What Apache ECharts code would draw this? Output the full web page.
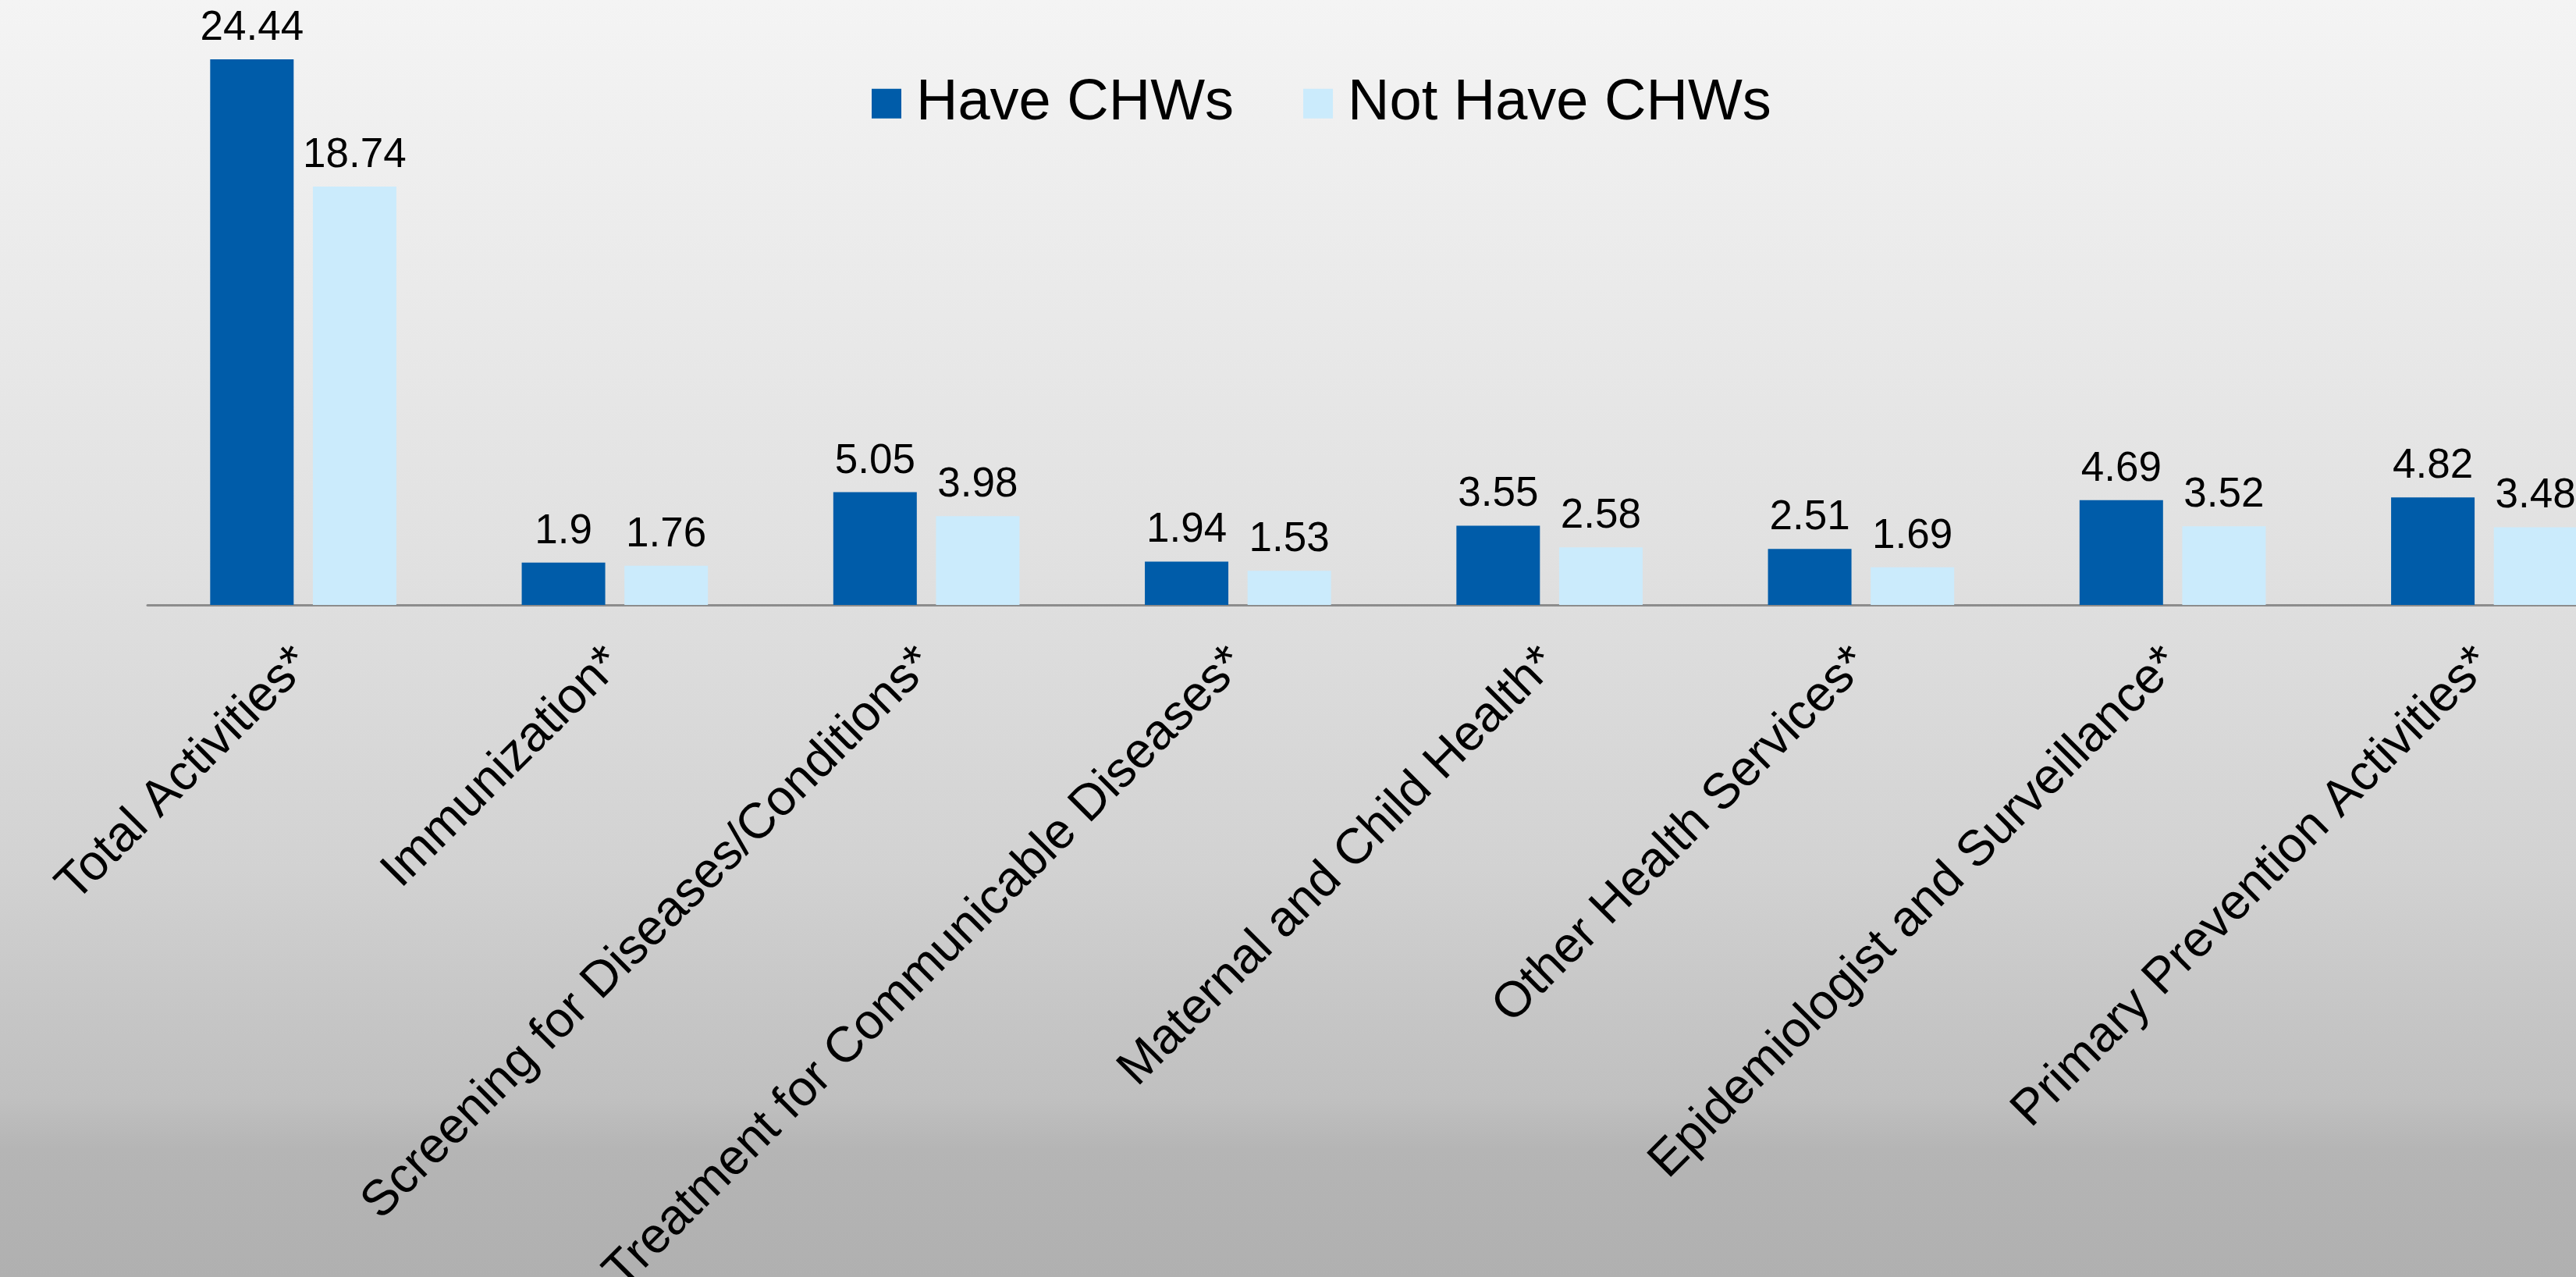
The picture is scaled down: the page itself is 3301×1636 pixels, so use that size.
<!DOCTYPE html>
<html>
<head>
    <title>CHW activities</title>
    <script src="https://cdn.jsdelivr.net/npm/echarts@6.0.0/dist/echarts.min.js"></script>
    <style>
        html, body { margin: 0; padding: 0; overflow: hidden; }
    </style>
</head>
<body>
    <div id="chart" style="width: 3301px; height: 1636px;"></div>
    <script>
        // values
        var categories = [
            'Total Activities*',
            'Immunization*',
            'Screening for Diseases/Conditions*',
            'Treatment for Communicable Diseases*',
            'Maternal and Child Health*',
            'Other Health Services*',
            'Epidemiologist and Surveillance*',
            'Primary Prevention Activities*'
        ];
        var haveCHWs = [24.44, 1.9, 5.05, 1.94, 3.55, 2.51, 4.69, 4.82];
        var notHaveCHWs = [18.74, 1.76, 3.98, 1.53, 2.58, 1.69, 3.52, 3.48];

        var font = '"Liberation Sans", Arial, sans-serif';
        var chart = echarts.init(document.querySelector('#chart'));

        var barLabel = {
            show: true,
            position: 'top',
            distance: -6,
            color: '#000',
            fontSize: 53,
            fontFamily: font
        };

        var option = {
            animation: false,
            // slide background: light grey on top fading to darker grey
            backgroundColor: {
                type: 'linear', x: 0, y: 0, x2: 0, y2: 1,
                colorStops: [
                    { offset: 0, color: '#f4f4f4' },
                    { offset: 0.45, color: '#e0e0e0' },
                    { offset: 0.68, color: '#d2d2d2' },
                    { offset: 0.8, color: '#c5c5c5' },
                    { offset: 0.86, color: '#c0c0c0' },
                    { offset: 0.9, color: '#b5b5b5' },
                    { offset: 1, color: '#b0b0b0' }
                ]
            },
            legend: {
                left: 1112,
                top: 64,
                itemWidth: 38,
                itemHeight: 38,
                itemGap: 89,
                icon: 'rect',
                textStyle: {
                    fontSize: 74,
                    fontFamily: font,
                    color: '#000',
                    padding: [0, 0, 0, 14]
                },
                data: ['Have CHWs', 'Not Have CHWs']
            },
            // grid runs past the right edge, the last group is cut off like in the slide
            grid: {
                left: 189,
                top: 60,
                width: 3194,
                height: 715,
                outerBoundsMode: 'none'
            },
            xAxis: {
                type: 'category',
                data: categories,
                axisLine: { lineStyle: { color: '#8c8c8c', width: 3 } },
                axisTick: { show: false },
                axisLabel: {
                    rotate: 45,
                    margin: 65,
                    interval: 0,
                    color: '#000',
                    fontSize: 64,
                    fontFamily: font
                }
            },
            yAxis: {
                type: 'value',
                min: 0,
                max: 25,
                show: false,
                splitLine: { show: false }
            },
            series: [
                {
                    name: 'Have CHWs',
                    type: 'bar',
                    data: haveCHWs,
                    barWidth: 107,
                    barGap: '23%',
                    itemStyle: { color: '#005ca9' },
                    label: barLabel
                },
                {
                    name: 'Not Have CHWs',
                    type: 'bar',
                    data: notHaveCHWs,
                    barWidth: 107,
                    itemStyle: { color: '#cbebfc' },
                    label: barLabel
                }
            ]
        };
        chart.setOption(option);
    </script>
</body>
</html>
